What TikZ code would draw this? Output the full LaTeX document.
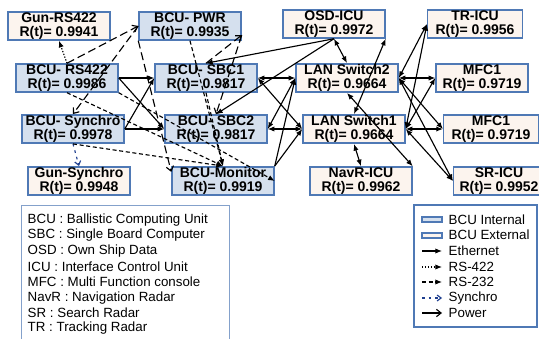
\documentclass[tikz,border=0pt]{standalone}
\usepackage{fontspec}
\setmainfont{Liberation Sans}
\usetikzlibrary{arrows.meta}
\definecolor{boxline}{HTML}{4F79B5}
\definecolor{intfill}{HTML}{D5E0EE}
\definecolor{extfill}{HTML}{FCF4EE}
\definecolor{syncblue}{HTML}{1F3F8F}
\begin{document}
\begin{tikzpicture}
      [x=0.75pt,y=-0.75pt,
       every node/.style={draw=boxline,line width=1.1pt,minimum width=76.5pt,minimum height=21pt,inner sep=0.5pt,align=center,font=\bfseries\fontsize{10.5}{10.5}\selectfont},
       bcuin/.style={fill=intfill},
       bcuout/.style={fill=extfill},
       legtext/.style={draw=none,fill=none,minimum width=0pt,minimum height=0pt,inner sep=0pt,anchor=west,font=\fontsize{10}{11}\selectfont},
       eth/.style={-{Latex[length=5pt,width=4pt]},line width=0.85pt},
       ethboth/.style={{Latex[length=5pt,width=4pt]}-{Latex[length=5pt,width=4pt]},line width=0.85pt},
       rsfour/.style={eth,dash pattern=on 1pt off 1.2pt},
       rstwo/.style={eth,dash pattern=on 3pt off 2pt},
       syncl/.style={-{Straight Barb[length=3pt,width=4.5pt]},syncblue,dash pattern=on 2pt off 3pt,line width=0.85pt},
       pwrl/.style={-{Straight Barb[length=3.5pt,width=5.5pt]},dash pattern=on 6pt off 3pt,line width=0.85pt}]
      \useasboundingbox (0,0) rectangle (539,339);

      \node [bcuout] (gunrs) at (59,26) {Gun-RS422\\R(t)= 0.9941};
      \node [bcuin] (pwr) at (190,26) {BCU- PWR\\R(t)= 0.9935};
      \node [bcuout] (osd) at (334,24) {OSD-ICU\\R(t)= 0.9972};
      \node [bcuout,minimum width=71pt] (tr) at (475,24) {TR-ICU\\R(t)= 0.9956};
      \node [bcuin] (rs) at (67,78) {BCU- RS422\\R(t)= 0.9986};
      \node [bcuin] (sbc1) at (206,78) {BCU- SBC1\\R(t)= 0.9817};
      \node [bcuout] (lan2) at (347,78) {LAN Switch2\\R(t)= 0.9664};
      \node [bcuout,minimum width=69pt] (mfca) at (482,78) {MFC1\\R(t)= 0.9719};
      \node [bcuin] (sync) at (73,129) {BCU- Synchro\\R(t)= 0.9978};
      \node [bcuin] (sbc2) at (216,129) {BCU- SBC2\\R(t)= 0.9817};
      \node [bcuout] (lan1) at (354,129) {LAN Switch1\\R(t)= 0.9664};
      \node [bcuout,minimum width=71pt] (mfcb) at (491,129) {MFC1\\R(t)= 0.9719};
      \node [bcuout] (gunsync) at (79,181) {Gun-Synchro\\R(t)= 0.9948};
      \node [bcuin] (mon) at (223,181) {BCU-Monitor\\R(t)= 0.9919};
      \node [bcuout] (navr) at (361,181) {NavR-ICU\\R(t)= 0.9962};
      \node [bcuout,minimum width=68pt] (sr) at (499,181) {SR-ICU\\R(t)= 0.9952};

      \draw [eth] (rs.east) -- (sbc1.west);
      \draw [eth] (rs.east) -- (sbc2.west);
      \draw [eth] (sync.east) -- (sbc1.west);
      \draw [eth] (sync.east) -- (sbc2.west);
      \draw [ethboth] (sbc1.east) -- (lan2.west);
      \draw [ethboth] (sbc1.east) -- (lan1.west);
      \draw [ethboth] (sbc2.east) -- (lan2.west);
      \draw [ethboth] (sbc2.east) -- (lan1.west);
      \draw [eth] (mon.north east) -- (lan2.west);
      \draw [eth] (mon.north east) -- (lan1.west);
      \draw [eth] (osd.south) -- (sbc1.north);
      \draw [eth] (osd.south) -- (sbc2.north);
      \draw [ethboth] (osd.south) -- (lan2.north);
      \draw [ethboth] (lan1.north) -- (osd.south east);
      \draw [ethboth] (lan1.south) -- (navr.north);
      \draw [ethboth] (lan2.south) -- (navr.north east);
      \draw [ethboth] (lan2.east) -- (tr.west);
      \draw [ethboth] (lan2.east) -- (mfca.west);
      \draw [ethboth] (lan2.east) -- (mfcb.west);
      \draw [ethboth] (lan2.east) -- (sr.west);
      \draw [ethboth] (lan1.east) -- (tr.west);
      \draw [ethboth] (lan1.east) -- (mfca.west);
      \draw [ethboth] (lan1.east) -- (mfcb.west);
      \draw [ethboth] (lan1.east) -- (sr.west);

      \draw [rsfour] (rs.north) -- (gunrs.south);
      \draw [syncl] (sync.south) -- (gunsync.north);

      \draw [rstwo] (rs.south) -- (mon.north);
      \draw [rstwo] (sync.south) -- (mon.north);
      \draw [rstwo] (rs.south east) -- (mon.east);
      \draw [rstwo] (pwr.south) -- (mon.north);
      \draw [rstwo] (sbc1.south) -- (mon.north);

      \draw [pwrl] (rs.north) -- (pwr.west);
      \draw [pwrl] (pwr.west) -- (sync.north);
      \draw [pwrl] (pwr.south west) -- (mon.170);
      \draw [pwrl] (sbc1.north) -- (pwr.-10);
      \draw [pwrl] (pwr.-10) -- (sbc2.north);

      \draw [boxline!70,line width=0.6pt] (21,205) rectangle (229,345);
      \node [legtext] (kbcu) at (27,220) {BCU : Ballistic Computing Unit};
      \node [legtext] (ksbc) at (27,235) {SBC : Single Board Computer};
      \node [legtext] (kosd) at (27,251) {OSD : Own Ship Data};
      \node [legtext] (kicu) at (27,267) {ICU : Interface Control Unit};
      \node [legtext] (kmfc) at (27,282) {MFC : Multi Function console};
      \node [legtext] (knav) at (27,298) {NavR : Navigation Radar};
      \node [legtext] (ksr) at (27,313) {SR : Search Radar};
      \node [legtext] (ktr) at (27,328) {TR : Tracking Radar};

      \draw [boxline,line width=0.8pt] (414,205) rectangle (537,327);
      \draw [bcuin,draw=boxline,line width=1pt] (422,217) rectangle (442,222);
      \draw [bcuout,draw=boxline,line width=1pt] (422,233) rectangle (442,238);
      \draw [eth] (422,251) -- (442,251);
      \draw [rsfour] (422,267) -- (442,267);
      \draw [rstwo] (422,282) -- (442,282);
      \draw [syncl] (422,298) -- (442,298);
      \draw [-{Straight Barb[length=3.5pt,width=5.5pt]},line width=0.85pt] (422,313) -- (442,313);
      \node [legtext] (lint) at (448,220) {BCU Internal};
      \node [legtext] (lext) at (448,235) {BCU External};
      \node [legtext] (leth) at (448,251) {Ethernet};
      \node [legtext] (lrsf) at (448,267) {RS-422};
      \node [legtext] (lrst) at (448,282) {RS-232};
      \node [legtext] (lsyn) at (448,298) {Synchro};
      \node [legtext] (lpwr) at (448,313) {Power};
    \end{tikzpicture}
\end{document}
